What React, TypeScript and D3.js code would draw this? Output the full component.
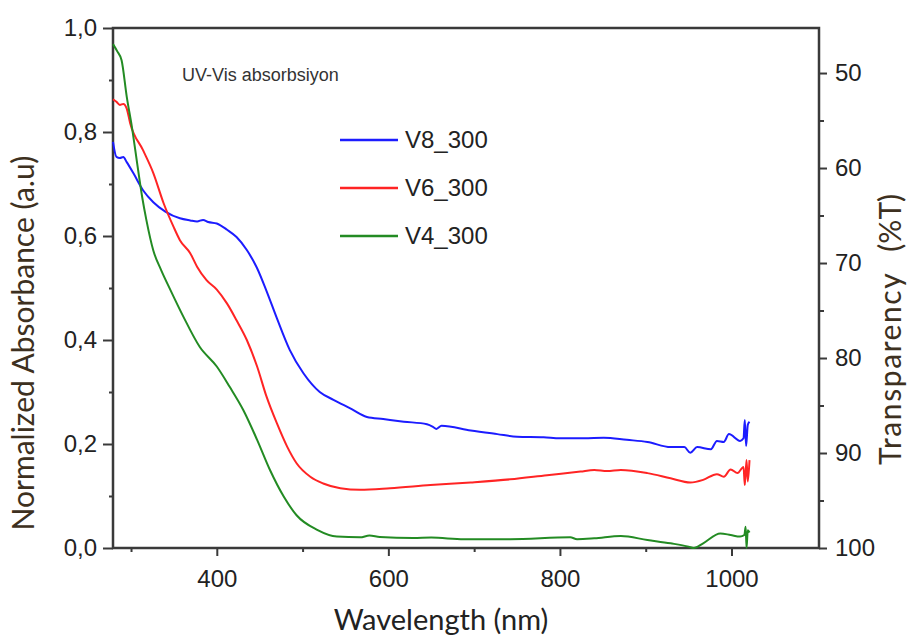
import React, { useEffect, useRef } from 'react';
import * as d3 from 'd3';

// wavelength (nm) / normalized absorbance
const wlV8 = [279, 283, 287, 291, 295, 303, 314, 326, 340, 357, 369, 377, 384, 390, 400, 412, 423, 435, 447, 458, 470, 485, 501, 520, 536, 555, 575, 594, 618, 645, 652, 656, 662, 696, 727, 750, 781, 800, 828, 851, 878, 902, 929, 945, 952, 960, 976, 983, 991, 997, 1010, 1014, 1015.5, 1017, 1019, 1021];
const absV8 = [0.781, 0.752, 0.75, 0.752, 0.742, 0.72, 0.688, 0.665, 0.647, 0.634, 0.63, 0.628, 0.631, 0.627, 0.624, 0.612, 0.598, 0.573, 0.538, 0.494, 0.442, 0.381, 0.336, 0.3, 0.285, 0.269, 0.252, 0.248, 0.243, 0.238, 0.233, 0.229, 0.235, 0.226, 0.219, 0.214, 0.213, 0.211, 0.211, 0.212, 0.208, 0.204, 0.194, 0.194, 0.183, 0.194, 0.19, 0.206, 0.204, 0.219, 0.206, 0.211, 0.246, 0.196, 0.237, 0.243];

const wlV6 = [279, 283, 287, 291, 295, 299, 314, 326, 338, 349.5, 357, 369, 377, 388, 400, 412, 423, 435, 447, 458, 470, 482, 493, 509, 524, 544, 567, 602, 649, 696, 742, 785, 824, 840, 855, 871, 902, 929, 952, 967, 983, 991, 999, 1007, 1014, 1015.5, 1017.5, 1019, 1021];
const absV6 = [0.863, 0.858, 0.852, 0.854, 0.845, 0.817, 0.765, 0.721, 0.663, 0.618, 0.592, 0.567, 0.541, 0.515, 0.497, 0.47, 0.438, 0.4, 0.349, 0.291, 0.24, 0.195, 0.163, 0.137, 0.124, 0.115, 0.112, 0.115, 0.121, 0.126, 0.132, 0.14, 0.147, 0.15, 0.148, 0.15, 0.144, 0.134, 0.126, 0.131, 0.142, 0.137, 0.151, 0.144, 0.156, 0.121, 0.169, 0.128, 0.169];

const wlV4 = [279, 284, 289, 295, 301, 308, 313, 318, 326, 335, 346, 361, 380, 400, 415, 431, 447, 462, 478, 493, 517, 540, 567, 578, 590, 629, 650, 688, 742, 812, 820, 840, 871, 902, 929, 950, 956, 967, 987, 999, 1010, 1015, 1016.5, 1017.5, 1019, 1021];
const absV4 = [0.969, 0.955, 0.938, 0.868, 0.81, 0.73, 0.675, 0.63, 0.572, 0.535, 0.496, 0.445, 0.387, 0.349, 0.31, 0.265, 0.208, 0.15, 0.099, 0.063, 0.035, 0.022, 0.0205, 0.024, 0.021, 0.019, 0.02, 0.017, 0.017, 0.0205, 0.017, 0.0186, 0.023, 0.0154, 0.009, 0.0026, 0, 0.009, 0.028, 0.025, 0.022, 0.025, 0.041, 0, 0.034, 0.03];

const seriesNames = ['V8_300', 'V6_300', 'V4_300'];
const seriesColors = ['#1c1cff', '#ff2424', '#238b23'];

const xMajor = [400, 600, 800, 1000];
const xMinor = [300, 500, 700, 900];
const yMajor = [0, 0.2, 0.4, 0.6, 0.8, 1.0];
const yMinor = [0.1, 0.3, 0.5, 0.7, 0.9];
const tMajor = [50, 60, 70, 80, 90, 100];
const tMinor = [55, 65, 75, 85, 95];

function App() {
  const svgRef = useRef();

  useEffect(() => {
    const svg = d3.select(svgRef.current);
    svg.selectAll('*').remove();

    const left = 113, right = 819, top = 28, bottom = 548;
    const x = d3.scaleLinear().domain([279, 1102]).range([left, right]);
    const y = d3.scaleLinear().domain([0, 1]).range([bottom, top]);
    const yT = d3.scaleLinear().domain([100, 45.26]).range([bottom, top]);

    const tickFont = '"Liberation Sans", Arial, sans-serif';
    const titleFont = 'Lato, "Open Sans", sans-serif';
    const axisCol = '#3a3a3a';

    const style = (g, size) => {
      g.select('.domain').remove();
      g.selectAll('line').attr('stroke', axisCol).attr('stroke-width', 2);
      g.selectAll('text').attr('font-family', tickFont).attr('font-size', size).attr('fill', '#222');
    };

    // bottom axis
    svg.append('g').attr('transform', `translate(0,${bottom})`)
      .call(d3.axisBottom(x).tickValues(xMajor).tickSize(8).tickPadding(14).tickFormat(d3.format('d')))
      .call(g => style(g, 24));
    svg.append('g').attr('transform', `translate(0,${bottom})`)
      .call(d3.axisBottom(x).tickValues(xMinor).tickSize(4).tickFormat(() => ''))
      .call(g => style(g, 24));

    // left axis
    const comma = d => d3.format('.1f')(d).replace('.', ',');
    svg.append('g').attr('transform', `translate(${left},0)`)
      .call(d3.axisLeft(y).tickValues(yMajor).tickSize(10).tickPadding(6).tickFormat(comma))
      .call(g => style(g, 24));
    svg.append('g').attr('transform', `translate(${left},0)`)
      .call(d3.axisLeft(y).tickValues(yMinor).tickSize(4).tickFormat(() => ''))
      .call(g => style(g, 24));

    // right axis
    svg.append('g').attr('transform', `translate(${right},0)`)
      .call(d3.axisRight(yT).tickValues(tMajor).tickSize(8).tickPadding(8).tickFormat(d3.format('d')))
      .call(g => style(g, 24));
    svg.append('g').attr('transform', `translate(${right},0)`)
      .call(d3.axisRight(yT).tickValues(tMinor).tickSize(5).tickFormat(() => ''))
      .call(g => style(g, 24));

    // frame
    svg.append('rect')
      .attr('x', left).attr('y', top)
      .attr('width', right - left).attr('height', bottom - top)
      .attr('fill', 'none').attr('stroke', axisCol).attr('stroke-width', 2.5);

    // curves
    const series = [
      wlV8.map((w, i) => [w, absV8[i]]),
      wlV6.map((w, i) => [w, absV6[i]]),
      wlV4.map((w, i) => [w, absV4[i]]),
    ];
    const line = d3.line().curve(d3.curveMonotoneX).x(d => x(d[0])).y(d => y(d[1]));
    series.forEach((s, i) => {
      svg.append('path').datum(s)
        .attr('d', line)
        .attr('fill', 'none')
        .attr('stroke', seriesColors[i])
        .attr('stroke-width', 2)
        .attr('stroke-linejoin', 'round');
    });

    // legend
    const lg = svg.append('g').attr('transform', 'translate(340,140)');
    seriesNames.forEach((name, i) => {
      lg.append('line')
        .attr('x1', 0).attr('x2', 58)
        .attr('y1', i * 48).attr('y2', i * 48)
        .attr('stroke', seriesColors[i]).attr('stroke-width', 2.5);
      lg.append('text')
        .attr('x', 65).attr('y', i * 48).attr('dy', '0.35em')
        .attr('font-family', tickFont).attr('font-size', 24).attr('fill', '#222')
        .text(name);
    });

    svg.append('text')
      .attr('x', 182).attr('y', 81)
      .attr('font-family', tickFont).attr('font-size', 18).attr('fill', '#333')
      .text('UV-Vis absorbsiyon');

    // axis titles
    svg.append('text')
      .attr('x', 441).attr('y', 630)
      .attr('text-anchor', 'middle')
      .attr('font-family', titleFont).attr('font-size', 29).attr('fill', '#222')
      .text('Wavelength (nm)');

    svg.append('text')
      .attr('transform', 'translate(34,343) rotate(-90)')
      .attr('text-anchor', 'middle')
      .attr('font-family', titleFont).attr('font-size', 30).attr('fill', '#3d3020')
      .text('Normalized Absorbance (a.u)');

    const rt = svg.append('text')
      .attr('transform', 'translate(901,465) rotate(-90)')
      .attr('font-family', titleFont).attr('font-size', 30).attr('fill', '#3d3020');
    rt.append('tspan').attr('letter-spacing', 1.6).text('Transparency');
    rt.append('tspan').attr('dx', 20).text('(%T)');
  }, []);

  return (
    <svg ref={svgRef} width={910} height={637}
      style={{ position: 'fixed', left: 0, top: 0, background: '#fff' }} />
  );
}

export default App;
